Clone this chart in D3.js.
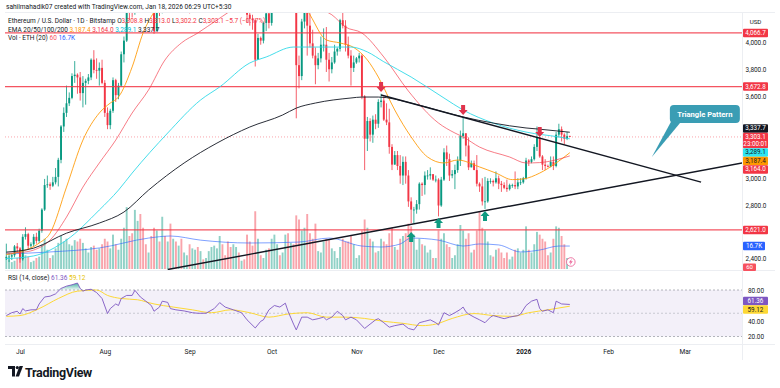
<!DOCTYPE html>
<meta charset="utf-8">
<script src="https://d3js.org/d3.v7.min.js"></script>
<style>
  body { margin: 0; background: #fff; }
  svg text { font-family: Roboto, "Liberation Sans", sans-serif; }
</style>
<div id="chart"></div>
<script>
// ETH/USD daily, Bitstamp. First candle is 2025-06-26, one value per day.
const firstOpen = 2415;
const closes = [
  2420, 2425, 2435, 2500, 2485,
  2405, 2570, 2590, 2505, 2515, 2570, 2540, 2615, 2770, 2950, 2955, 2945, 2970, 3010, 3135, 3380, 3480, 3550, 3590, 3750, 3760, 3740, 3625, 3700, 3715, 3740, 3870, 3795, 3790, 3810, 3700,
  3480, 3390, 3495, 3720, 3610, 3680, 3910, 4010, 4255, 4240, 4225, 4600, 4750, 4550, 4440, 4420, 4475, 4310, 4080, 4340, 4230, 4830, 4780, 4790, 4380, 4600, 4510, 4510, 4360, 4370, 4390,
  4310, 4330, 4450, 4300, 4300, 4280, 4300, 4310, 4310, 4350, 4460, 4720, 4660, 4610, 4520, 4500, 4590, 4590, 4480, 4480, 4460, 4200, 4170, 4160, 3870, 4030, 4010, 4140, 4210, 4140,
  4350, 4480, 4510, 4480, 4510, 4690, 4460, 4530, 4370, 3830, 3750, 4150, 4240, 4120, 3990, 3900, 3830, 3880, 3980, 3980, 3870, 3800, 3850, 3930, 3950, 4160, 4120, 3980, 3900, 3810, 3850,
  3880, 3900, 3600, 3290, 3420, 3320, 3430, 3400, 3560, 3570, 3430, 3410, 3230, 3100, 3170, 3090, 3020, 3120, 3020, 2830, 2770, 2770, 2810, 2960, 2950, 3020, 3020, 3030, 2990, 2990,
  2800, 2990, 3190, 3140, 3020, 3030, 3060, 3130, 3310, 3330, 3240, 3080, 3110, 3060, 2960, 2940, 2830, 2830, 2980, 2980, 2970, 3000, 2960, 2950, 2930, 2920, 2950, 2950, 2940, 2970, 2970,
  3000, 3130, 3120, 3140, 3230, 3300, 3160, 3100, 3090, 3085, 3120, 3090, 3320, 3360, 3320, 3290, 3308.8, 3303.1
];
const highs = [
  2520, 2450, 2445, 2510, 2525,
  2495, 2590, 2640, 2600, 2530, 2590, 2600, 2630, 2780, 2995, 3020, 2970, 3010, 3075, 3150, 3390, 3520, 3680, 3630, 3770, 3860, 3770, 3780, 3750, 3730, 3765, 3880, 3940, 3880, 3850, 3870,
  3720, 3520, 3510, 3740, 3730, 3700, 3930, 4040, 4320, 4330, 4350, 4630, 4790, 4780, 4680, 4480, 4500, 4480, 4330, 4370, 4350, 4880, 4890, 4950, 4800, 4620, 4660, 4620, 4520, 4390, 4500,
  4390, 4370, 4490, 4460, 4480, 4320, 4330, 4390, 4380, 4400, 4480, 4740, 4770, 4680, 4630, 4520, 4600, 4630, 4600, 4510, 4490, 4470, 4230, 4200, 4170, 4060, 4040, 4150, 4240, 4230,
  4360, 4500, 4520, 4520, 4590, 4760, 4750, 4540, 4530, 4390, 3900, 4170, 4290, 4200, 4210, 4090, 3960, 3920, 4040, 4100, 4110, 3920, 3890, 3980, 3960, 4170, 4250, 4160, 4040, 3940, 3900,
  3890, 3920, 3910, 3610, 3450, 3440, 3460, 3470, 3580, 3620, 3600, 3550, 3510, 3250, 3200, 3200, 3170, 3160, 3160, 3060, 2860, 2790, 2840, 2970, 2970, 3050, 3060, 3080, 3020, 3020,
  3000, 3010, 3220, 3240, 3180, 3060, 3100, 3160, 3350, 3450, 3330, 3300, 3130, 3130, 3170, 2970, 3000, 3010, 3000, 3000, 2990, 3050, 3020, 2980, 2970, 2990, 2960, 2960, 3050, 3000, 3000,
  3010, 3150, 3140, 3160, 3250, 3380, 3300, 3170, 3140, 3100, 3160, 3160, 3340, 3400, 3380, 3330, 3340, 3313.0
];
const lows = [
  2400, 2385, 2400, 2420, 2460,
  2380, 2395, 2550, 2480, 2490, 2500, 2520, 2525, 2600, 2760, 2930, 2915, 2935, 2955, 2940, 3110, 3340, 3450, 3530, 3580, 3700, 3620, 3570, 3520, 3540, 3690, 3720, 3770, 3730, 3680, 3690,
  3450, 3360, 3360, 3480, 3560, 3580, 3670, 3850, 4000, 4160, 4180, 4200, 4580, 4450, 4380, 4380, 4420, 4220, 4060, 4080, 4190, 4210, 4710, 4700, 4360, 4360, 4480, 4430, 4280, 4280, 4370,
  4210, 4260, 4320, 4260, 4270, 4270, 4260, 4270, 4280, 4300, 4340, 4430, 4630, 4590, 4460, 4450, 4420, 4550, 4460, 4470, 4440, 4140, 4120, 4090, 3820, 3880, 3980, 3990, 4080, 4100,
  4120, 4340, 4420, 4450, 4460, 4500, 4430, 4440, 4290, 3440, 3660, 3720, 4100, 3900, 3960, 3880, 3690, 3800, 3850, 3930, 3780, 3710, 3770, 3840, 3900, 3930, 4100, 3930, 3880, 3680, 3780,
  3840, 3850, 3580, 3060, 3200, 3270, 3260, 3360, 3370, 3520, 3420, 3390, 3180, 3060, 3120, 3060, 2960, 2950, 2960, 2790, 2670, 2670, 2740, 2770, 2870, 2880, 2990, 2990, 2980, 2970,
  2720, 2790, 2980, 3090, 2980, 3000, 2920, 3040, 3090, 3290, 3160, 3060, 3080, 3060, 2940, 2900, 2800, 2775, 2820, 2960, 2940, 2960, 2920, 2900, 2920, 2900, 2910, 2930, 2920, 2920, 2950,
  2960, 2990, 3090, 3110, 3130, 3200, 3150, 3060, 3060, 3080, 3080, 3060, 3080, 3300, 3270, 3250, 3280, 3302.2
];
// volume, thousand ETH
const volumes = [
  9, 7, 5, 6, 8,
  11, 12, 10, 9, 5, 6, 8, 9, 18, 22, 14, 8, 10, 15, 19, 24, 20, 22, 18, 17, 21, 20, 22, 19, 15, 12, 16, 17, 14, 15, 18,
  22, 20, 15, 25, 18, 14, 22, 30, 45, 24, 26, 43, 35, 40, 30, 18, 12, 24, 30, 28, 20, 38, 24, 20, 33, 22, 20, 17, 22, 12, 10,
  18, 15, 14, 16, 13, 7, 8, 13, 16, 17, 15, 24, 18, 10, 20, 16, 18, 16, 12, 6, 7, 25, 20, 17, 42, 22, 10, 8, 14, 15,
  22, 25, 18, 10, 12, 25, 26, 19, 18, 39, 36, 28, 30, 40, 26, 22, 33, 13, 12, 20, 22, 21, 15, 13, 8, 16, 22, 20, 20, 24, 18,
  8, 10, 28, 36, 30, 22, 20, 12, 13, 22, 20, 18, 26, 30, 16, 14, 22, 24, 26, 33, 31, 25, 14, 22, 18, 17, 12, 14, 8, 8,
  28, 22, 26, 18, 16, 8, 10, 18, 32, 28, 22, 26, 12, 14, 28, 42, 30, 28, 20, 10, 9, 14, 15, 12, 8, 12, 7, 9, 14, 15, 12,
  14, 31, 14, 12, 18, 27, 25, 22, 20, 10, 12, 22, 31, 30, 24, 18, 8, 0.06
];

// indicator lines: [day index, value]
const ema20 = [[0,2440],[5,2460],[12,2524],[16,2597],[22,2935],[28,3280],[34,3479],[38,3552],[41,3596],[46,3817],[50,4066],[54,4220],[60,4380],[70,4450],[80,4440],[90,4380],[96,4260],[104,4380],[108,4300],[111,4200],[117,4015],[122,3993],[127,3960],[132,3868],[136,3743],[142,3501],[148,3303],[154,3156],[160,3112],[165,3134],[173,3083],[179,3038],[185,2990],[189,2995],[195,3038],[201,3112],[206,3187.4]];
const ema50 = [[0,2450],[5,2455],[10,2473],[16,2546],[22,2715],[28,2935],[34,3112],[40,3280],[46,3479],[52,3648],[58,3868],[64,3993],[70,4066],[77,4161],[85,4260],[95,4300],[105,4320],[112,4260],[119,4200],[124,4110],[130,4066],[138,3890],[147,3640],[158,3405],[164,3332],[167,3303],[173,3229],[184,3156],[190,3112],[195,3115],[201,3135],[206,3164.0]];
const ema100 = [[0,2410],[10,2430],[22,2546],[34,2767],[41,2913],[46,3038],[59,3332],[71,3574],[78,3670],[89,3846],[95,3890],[105,3963],[114,3963],[126,3963],[132,3927],[138,3855],[148,3743],[160,3589],[167,3501],[178,3405],[190,3339],[202,3303],[206,3289.1]];
const ema200 = [[0,2458],[10,2487],[22,2597],[34,2671],[43,2752],[52,2913],[65,3112],[77,3258],[89,3376],[101,3464],[106,3515],[113,3552],[126,3589],[130,3596],[136,3596],[148,3552],[160,3486],[167,3450],[178,3405],[190,3369],[195,3360],[206,3337.7]];
const volMa = [[0,10.9],[16,12.4],[34,15.3],[52,22.5],[60,24],[71,21],[89,18.9],[107,19.6],[118,22.5],[130,16.7],[137,16],[144,18.2],[148,22.5],[158,21],[167,16.7],[173,18.2],[180,17.5],[188,12.4],[195,13.8],[202,16.7],[206,16.7]];
const rsi = [[0,47],[2,50.7],[4,52.6],[5,49],[6,56],[7,53],[9,54.4],[11,54.5],[12,62],[14,71],[16,72],[18,75],[20,82],[22,85],[24,86.7],[26,89],[27,82],[28,78.5],[29,80],[31,81],[33,76.7],[35,69],[37,49.6],[38,56],[40,62],[41,60],[42,69],[44,73],[46,73],[47,79.6],[49,71],[51,65.6],[53,60],[54,52.6],[56,58],[57,65.6],[59,64],[60,56],[62,54.4],[65,53],[68,50.7],[70,50],[73,50],[76,56],[78,63.7],[80,58],[83,54.4],[86,50.7],[88,41.5],[91,31],[93,39.6],[94,41.5],[96,54.4],[98,60],[100,58],[102,63],[103,52.6],[105,36],[106,28.5],[108,45],[110,45],[112,41.5],[114,43],[116,45],[117,41.5],[119,45],[121,52.6],[123,47],[124,41.5],[126,45],[128,41.5],[131,30.4],[133,36],[135,41.5],[136,43],[138,37.8],[140,32],[142,34],[145,36],[147,30.4],[149,28.5],[151,37.8],[153,39.6],[155,41.5],[157,37.8],[158,34.8],[160,50.7],[162,47],[164,50.7],[166,55],[167,58],[168,52],[169,49],[171,45],[173,41.5],[175,37.8],[177,45],[178,47],[180,45],[182,43],[184,45],[187,47],[188,49],[190,60],[192,65.6],[194,68],[195,56],[196,52.6],[198,54.4],[200,50.7],[201,65.6],[203,62],[206,61.36]];
const rsiMa = [[0,46],[5,47],[12,56],[19,69],[26,78.5],[33,80],[37,73],[42,69],[48,67.4],[54,62],[61,58],[68,54.4],[75,50.7],[82,54.4],[89,50.7],[96,45],[103,49],[110,50.7],[117,45],[124,45],[131,43.3],[138,39.6],[145,37],[152,34],[157,36],[163,43.3],[171,49.6],[178,47],[185,46],[191,50.7],[198,54.4],[206,59.12]];

const levels = [4066.7, 3672.8, 2621.0];
const priceTicks = [2400, 2600, 2800, 3000, 3200, 3400, 3600, 3800, 4000];
const rsiTicks = [20, 40, 60, 80];
const monthTicks = ["2025-07-01","2025-08-01","2025-09-01","2025-10-01","2025-11-01","2025-12-01","2026-01-01","2026-02-01","2026-03-01"];
const monthNames = ["Jul","Aug","Sep","Oct","Nov","Dec","2026","Feb","Mar"];
const upperTrend = [["2025-11-10", 3611], ["2026-03-07", 2972]];
const lowerTrend = [["2025-08-24", 2330], ["2026-03-22", 3112]];
const sellMarks = [["2025-11-10", 3633], ["2025-12-10", 3464], ["2026-01-07", 3303]];
const buyMarks = [["2025-11-21", 2605], ["2025-12-01", 2708], ["2025-12-18", 2759]];

const W = 780, H = 388;
const plot = {left: 5, right: 742, top: 13, bottom: 270};
const rsiPane = {top: 271, bottom: 344};
const UP = "#089981", DOWN = "#f23645";

const DAY = 864e5, start = Date.UTC(2025, 5, 26);
const dayDate = i => new Date(start + i * DAY);
const parse = s => new Date(s + "T00:00:00Z");

const x = d3.scaleUtc().domain([parse("2025-07-01"), parse("2026-01-01")]).range([20, 523.3]);
const y = d3.scaleLinear().domain([2400, 4000]).range([260, 42]);
const yVol = d3.scaleLinear().domain([0, 48]).range([269, 203]);
const yRsi = d3.scaleLinear().domain([20, 80]).range([336.5, 290]);

const candles = closes.map((c, i) => {
  const o = i ? closes[i - 1] : firstOpen;
  return {date: dayDate(i), o: o, c: c, h: Math.max(highs[i], o, c), l: Math.min(lows[i], o, c), v: volumes[i]};
});

const svg = d3.select("#chart").append("svg")
  .attr("width", W).attr("height", H).style("display", "block");
svg.append("rect").attr("width", W).attr("height", H).attr("fill", "#fff");

const defs = svg.append("defs");
defs.append("clipPath").attr("id", "clipPrice").append("rect")
  .attr("x", plot.left).attr("y", plot.top).attr("width", plot.right - plot.left).attr("height", plot.bottom - plot.top);
defs.append("clipPath").attr("id", "clipRsi").append("rect")
  .attr("x", plot.left).attr("y", rsiPane.top).attr("width", plot.right - plot.left).attr("height", rsiPane.bottom - rsiPane.top);
const grad = defs.append("linearGradient").attr("id", "obFill").attr("x1", 0).attr("x2", 0).attr("y1", 0).attr("y2", 1);
grad.append("stop").attr("offset", "0%").attr("stop-color", "#089981").attr("stop-opacity", 0.75);
grad.append("stop").attr("offset", "100%").attr("stop-color", "#089981").attr("stop-opacity", 0.05);

// frame lines
const frame = svg.append("g").attr("stroke", "#eceef2").attr("stroke-width", 1);
frame.append("line").attr("x1", plot.left).attr("x2", 775).attr("y1", 12.5).attr("y2", 12.5);
frame.append("line").attr("x1", plot.left).attr("x2", 775).attr("y1", 270.5).attr("y2", 270.5);
frame.append("line").attr("x1", plot.left).attr("x2", 775).attr("y1", 344.5).attr("y2", 344.5);
frame.append("line").attr("x1", plot.right + 0.5).attr("x2", plot.right + 0.5).attr("y1", 12.5).attr("y2", 360);

// ---------- price pane ----------
const gP = svg.append("g").attr("clip-path", "url(#clipPrice)");

// volume
gP.append("g").selectAll("rect").data(candles).join("rect")
  .attr("x", d => x(d.date) - 0.95).attr("width", 1.9)
  .attr("y", d => yVol(d.v)).attr("height", d => yVol(0) - yVol(d.v))
  .attr("fill", d => d.c >= d.o ? UP : DOWN).attr("opacity", 0.45);
gP.append("path").datum(volMa)
  .attr("d", d3.line().x(d => x(dayDate(d[0]))).y(d => yVol(d[1])).curve(d3.curveMonotoneX))
  .attr("fill", "none").attr("stroke", "#2962ff").attr("stroke-opacity", 0.6).attr("stroke-width", 1);

// candles
const gC = gP.append("g");
gC.selectAll("line").data(candles).join("line")
  .attr("x1", d => x(d.date)).attr("x2", d => x(d.date))
  .attr("y1", d => y(d.h)).attr("y2", d => y(d.l))
  .attr("stroke", d => d.c >= d.o ? UP : DOWN).attr("stroke-width", 0.8);
gC.selectAll("rect").data(candles).join("rect")
  .attr("x", d => x(d.date) - 0.95).attr("width", 1.9)
  .attr("y", d => y(Math.max(d.o, d.c)))
  .attr("height", d => Math.max(0.8, Math.abs(y(d.o) - y(d.c))))
  .attr("fill", d => d.c >= d.o ? UP : DOWN);

// horizontal levels and last price
gP.append("g").selectAll("line").data(levels).join("line")
  .attr("x1", plot.left).attr("x2", plot.right).attr("y1", d => y(d)).attr("y2", d => y(d))
  .attr("stroke", "#f23645").attr("stroke-opacity", 0.85).attr("stroke-width", 1.3);
const lastPrice = closes[closes.length - 1];
gP.append("line").attr("x1", plot.left).attr("x2", plot.right).attr("y1", y(lastPrice)).attr("y2", y(lastPrice))
  .attr("stroke", "#f23645").attr("stroke-opacity", 0.45).attr("stroke-dasharray", "1,2");

// EMAs
const emaLine = d3.line().x(d => x(dayDate(d[0]))).y(d => y(d[1])).curve(d3.curveMonotoneX);
[[ema20, "#ff9800", 0.85], [ema50, "#f23645", 0.65], [ema100, "#26d7e6", 0.85], [ema200, "#131722", 0.9]]
  .forEach(([data, color, op]) => {
    gP.append("path").datum(data).attr("d", emaLine)
      .attr("fill", "none").attr("stroke", color).attr("stroke-opacity", op).attr("stroke-width", 1);
  });

// triangle trendlines
const trend = d3.line().x(d => x(parse(d[0]))).y(d => y(d[1]));
[upperTrend, lowerTrend].forEach(t => {
  gP.append("path").datum(t).attr("d", trend)
    .attr("stroke", "#131722").attr("stroke-width", 1.4).attr("fill", "none");
});

// arrows
function arrow(cx, tip, dir, color) {
  const shape = [[-2, -10], [2, -10], [2, -5], [4.5, -5], [0, 0], [-4.5, -5], [-2, -5]];
  gP.append("path")
    .attr("d", d3.line()(shape.map(p => [cx + p[0], tip + p[1] * dir])) + "Z")
    .attr("fill", color);
}
sellMarks.forEach(m => arrow(x(parse(m[0])), y(m[1]), 1, "#e0344c"));
buyMarks.forEach(m => arrow(x(parse(m[0])), y(m[1]), -1, "#0f9a80"));

// callout
const tip = [x(parse("2026-02-17")), y(3156)];
const box = {x: tip[0] + 18, y: tip[1] - 52, w: 70, h: 18};
const gCall = svg.append("g");
gCall.append("path")
  .attr("d", `M${box.x + 1},${box.y + box.h - 1} L${box.x + 11},${box.y + box.h - 1} L${tip[0]},${tip[1]} Z`)
  .attr("fill", "#3a9db4");
gCall.append("rect").attr("x", box.x).attr("y", box.y).attr("width", box.w).attr("height", box.h)
  .attr("rx", 4).attr("fill", "#3a9db4");
gCall.append("text").attr("x", box.x + box.w / 2).attr("y", box.y + box.h / 2 + 2.7)
  .attr("text-anchor", "middle").attr("fill", "#fff").attr("font-size", 7.6).attr("font-weight", 700)
  .text("Triangle Pattern");

// lightning badge
const bx = x(dayDate(closes.length - 1)) + 1, by = 262;
svg.append("circle").attr("cx", bx).attr("cy", by).attr("r", 4.3)
  .attr("fill", "#fff").attr("stroke", "#ec6a9c").attr("stroke-width", 0.9);
svg.append("path").attr("d", `M${bx + 1},${by - 3.2} L${bx - 2},${by + 0.6} L${bx - 0.2},${by + 0.6} L${bx - 1},${by + 3.2} L${bx + 2},${by - 0.8} L${bx + 0.2},${by - 0.8} Z`)
  .attr("fill", "#ec6a9c");

// ---------- RSI pane ----------
const gR = svg.append("g").attr("clip-path", "url(#clipRsi)");
gR.append("rect").attr("x", plot.left).attr("width", plot.right - plot.left)
  .attr("y", yRsi(80)).attr("height", yRsi(20) - yRsi(80))
  .attr("fill", "#7e57c2").attr("fill-opacity", 0.09);
[80, 50, 20].forEach(v => {
  gR.append("line").attr("x1", plot.left).attr("x2", plot.right).attr("y1", yRsi(v)).attr("y2", yRsi(v))
    .attr("stroke", "#9598a1").attr("stroke-opacity", v === 50 ? 0.45 : 0.7).attr("stroke-dasharray", "2,2");
});
gR.append("path").datum(rsi)
  .attr("d", d3.area().x(d => x(dayDate(d[0]))).y0(yRsi(80)).y1(d => yRsi(Math.max(80, d[1]))))
  .attr("fill", "url(#obFill)");
gR.append("path").datum(rsiMa)
  .attr("d", d3.line().x(d => x(dayDate(d[0]))).y(d => yRsi(d[1])).curve(d3.curveMonotoneX))
  .attr("fill", "none").attr("stroke", "#fdd835").attr("stroke-width", 1);
gR.append("path").datum(rsi)
  .attr("d", d3.line().x(d => x(dayDate(d[0]))).y(d => yRsi(d[1])))
  .attr("fill", "none").attr("stroke", "#7e57c2").attr("stroke-width", 0.9);

// ---------- axes ----------
const fmt = d3.format(",.1f");
const axP = svg.append("g").attr("transform", `translate(${plot.right + 1},0)`)
  .call(d3.axisRight(y).tickValues(priceTicks).tickSize(0).tickPadding(0).tickFormat(fmt));
const axR = svg.append("g").attr("transform", `translate(${plot.right + 1},0)`)
  .call(d3.axisRight(yRsi).tickValues(rsiTicks).tickSize(0).tickPadding(0).tickFormat(d3.format(".2f")));
[axP, axR].forEach(a => {
  a.select(".domain").remove();
  a.selectAll("text").attr("x", 13).attr("text-anchor", "middle").attr("font-size", 6.4)
    .attr("fill", "#131722").style("font-family", "Roboto, sans-serif");
});
const axT = svg.append("g").attr("transform", "translate(0,349)")
  .call(d3.axisBottom(x).tickValues(monthTicks.map(parse)).tickSize(0).tickPadding(0)
    .tickFormat((d, i) => monthNames[i]));
axT.select(".domain").remove();
axT.selectAll("text").attr("dy", "0.71em").attr("font-size", 6.6).attr("fill", "#131722")
  .style("font-family", "Roboto, sans-serif")
  .attr("font-weight", (d, i) => monthNames[i] === "2026" ? 700 : 400);

svg.append("text").attr("x", 755.5).attr("y", 24).attr("text-anchor", "middle")
  .attr("font-size", 6.2).attr("fill", "#131722").text("USD");

// ---------- price tags ----------
const tagBoxes = [];
function drawTag(t) {
  const g = svg.append("g");
  tagBoxes.push({top: t.top, bottom: t.top + t.h});
  g.append("rect").attr("x", 743).attr("y", t.top).attr("width", t.w || 25).attr("height", t.h)
    .attr("rx", 1).attr("fill", t.fill);
  t.lines.forEach((s, i) => {
    g.append("text").attr("x", 743 + (t.w || 25) / 2).attr("y", t.top + (t.h > 8 ? 6.2 : 5.9) + i * 7.2)
      .attr("text-anchor", "middle").attr("font-size", t.fs || 6.3).attr("fill", t.color).text(s);
  });
}
function stack(tags, anchor) {
  tags.sort((a, b) => a.top - b.top);
  const k = tags.indexOf(anchor);
  for (let i = k - 1; i >= 0; i--) tags[i].top = Math.min(tags[i].top, tags[i + 1].top - tags[i].h);
  for (let i = k + 1; i < tags.length; i++) tags[i].top = Math.max(tags[i].top, tags[i - 1].top + tags[i - 1].h);
  tags.forEach(drawTag);
}
const T = 8.5;
const mk = (v, fill, color, h, lines) => ({top: y(v) - 4.25, h: h || T, fill: fill, color: color, lines: lines || [fmt(v)]});
const current = mk(lastPrice, "#f23645", "#fff", 15.5, [fmt(lastPrice), "23:00:01"]);
const priceTags = [
  mk(levels[0], "#f23645", "#fff"), mk(levels[1], "#f23645", "#fff"),
  mk(ema200[ema200.length - 1][1], "#131722", "#fff"),
  current,
  mk(ema100[ema100.length - 1][1], "#2ee6f2", "#131722"),
  mk(ema20[ema20.length - 1][1], "#ff9800", "#131722"),
  mk(ema50[ema50.length - 1][1], "#f23645", "#fff"),
  mk(levels[2], "#f23645", "#fff")
];
stack(priceTags, current);
const lastVolMa = volMa[volMa.length - 1][1];
drawTag({top: yVol(lastVolMa) - 4.25, h: T, w: 22, fill: "#2962ff", color: "#fff", lines: [lastVolMa + "K"]});
drawTag({top: 263.4, h: 7.6, w: 13, fs: 6, fill: "#f7525f", color: "#fff", lines: ["60"]});
const rsiLast = rsi[rsi.length - 1][1], rsiMaLast = rsiMa[rsiMa.length - 1][1];
const mid = (yRsi(rsiLast) + yRsi(rsiMaLast)) / 2;
drawTag({top: mid - T, h: T, fill: "#7e57c2", color: "#fff", lines: [rsiLast.toFixed(2)]});
drawTag({top: mid, h: T, fill: "#fdd835", color: "#131722", lines: [rsiMaLast.toFixed(2)]});

// tick labels that sit fully under a tag are hidden by it
[[axP, y], [axR, yRsi]].forEach(([a, sc]) => {
  a.selectAll(".tick").filter(d => tagBoxes.some(b => sc(d) > b.top - 0.5 && sc(d) < b.bottom + 0.5)).remove();
});
// the lowest price label sits just above the volume tag
axP.selectAll(".tick").filter(d => d === 2400).select("text").attr("dy", "0.1em");

// ---------- legend / header ----------
function legendRow(yy, parts) {
  const t = svg.append("text").attr("x", 8).attr("y", yy).attr("font-size", 6.5);
  parts.forEach(p => t.append("tspan").attr("fill", p[1]).text(p[0]));
}
svg.append("text").attr("x", 6).attr("y", 9.3).attr("font-size", 6.6).attr("fill", "#131722")
  .text("sahilmahadik07 created with TradingView.com, Jan 18, 2026 06:29 UTC+5:30");
const R = "#f23645", K = "#131722";
legendRow(23, [["Ethereum / U.S. Dollar · 1D · Bitstamp  ", K], ["O", K], ["3,308.8 ", R], ["H", K], ["3,313.0 ", R],
  ["L", K], ["3,302.2 ", R], ["C", K], ["3,303.1 ", R], ["−5.7 (−0.17%)", R]]);
legendRow(31.5, [["EMA 20/50/100/200  ", K], ["3,187.4  ", "#ff9800"], ["3,164.0  ", R], ["3,289.1  ", "#00bcd4"], ["3,337.7", K]]);
legendRow(40, [["Vol · ETH (20)  ", K], ["60  ", "#f7525f"], ["16.7K", "#2962ff"]]);
legendRow(280, [["RSI (14, close)  ", K], ["61.36  ", "#7e57c2"], ["59.12", "#e6c200"]]);

// ---------- TradingView logo ----------
const lg = svg.append("g").attr("fill", "#131722");
lg.append("path").attr("d", "M8,366 H15 V376.5 H12 V369 H8 Z");
lg.append("circle").attr("cx", 17.3).attr("cy", 367.6).attr("r", 1.6);
lg.append("path").attr("d", "M19.5,366 H23 L19,376.5 H15.6 Z");
svg.append("text").attr("x", 25).attr("y", 376.5).attr("font-size", 12.5).attr("font-weight", 700)
  .attr("fill", "#131722").attr("letter-spacing", -0.3).text("TradingView");
</script>
